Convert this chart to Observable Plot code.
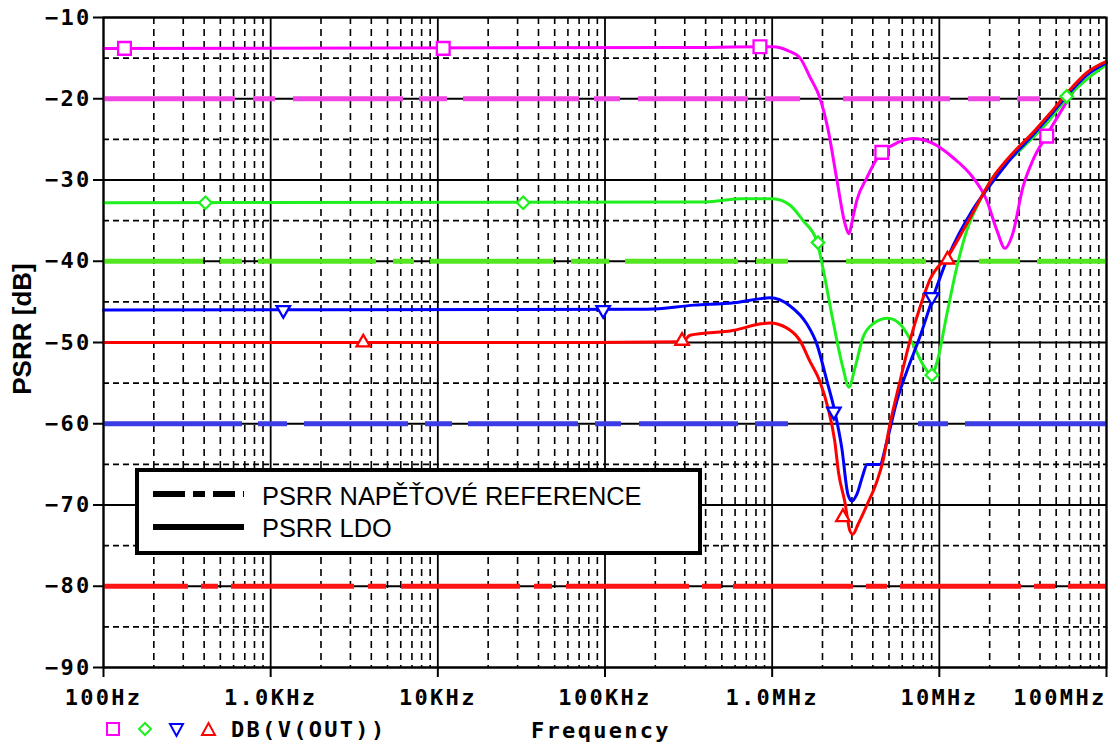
<!DOCTYPE html>
<html>
<head>
<meta charset="utf-8">
<script src="https://cdn.jsdelivr.net/npm/d3@7"></script>
<script src="https://cdn.jsdelivr.net/npm/@observablehq/plot@0.6"></script>
<style>
html, body { margin: 0; padding: 0; background: #fff; }
#chart { position: relative; width: 1116px; height: 746px; overflow: hidden; background: #fff; }
#chart > svg { position: absolute; left: 0; top: 0; }
g[aria-label="x-axis tick label"] text,
g[aria-label="y-axis tick label"] text { letter-spacing: 2.3px; }
.mono { font-family: "DejaVu Sans Mono", monospace; font-weight: bold; font-size: 22px; letter-spacing: 2.3px; }
.sans { font-family: "Liberation Sans", Arial, sans-serif; }
</style>
</head>
<body>
<div id="chart"></div>
<script>
// ---------- axes ----------
const frequencyTicks = [1e2, 1e3, 1e4, 1e5, 1e6, 1e7, 1e8];
const frequencyTickLabels = ["100Hz", "1.0KHz", "10KHz", "100KHz", "1.0MHz", "10MHz", "100MHz"];
const dbTicks = [-10, -20, -30, -40, -50, -60, -70, -80, -90];
const dbMinorTicks = [-15, -25, -35, -45, -55, -65, -75, -85];
const minorMultipliers = [2, 3, 4, 5, 6, 7, 8, 9];

const yTitle = "PSRR [dB]";
const xTitle = "Frequency";
const traceLegend = "DB(V(OUT))";
const legendReference = "PSRR NAPĚŤOVÉ REFERENCE";
const legendLdo = "PSRR LDO";

// ---------- reference levels (PSRR napěťové reference) ----------
const referenceLevels = [-20, -40, -60, -80];   // magenta, green, blue, red

// ---------- PSRR LDO traces ----------
const magentaFreq = [100, 3e5, 8.45e5, 1.01e6, 1.25e6, 1.47e6, 1.68e6, 1.93e6, 2.16e6, 2.44e6, 2.72e6, 2.87e6, 3.05e6, 3.21e6, 3.69e6, 4.41e6, 5.27e6, 6.95e6, 9.15e6, 1.2e7, 1.59e7, 1.92e7, 2.21e7, 2.47e7, 2.75e7, 3.16e7, 3.62e7, 4.39e7, 5.25e7, 6.03e7, 6.92e7, 1e8];
const magentaDb   = [-13.8, -13.7, -13.6, -13.6, -14.1, -15.0, -17.3, -19.9, -23.8, -30.0, -35.3, -36.6, -34.5, -32.5, -29.7, -26.8, -25.7, -24.9, -25.5, -27.2, -29.7, -32.5, -36.2, -38.4, -36.6, -30.9, -27.6, -24.5, -21.8, -19.8, -18.0, -15.5];

const greenFreq = [100, 4e5, 6.43e5, 1.01e6, 1.28e6, 1.53e6, 1.85e6, 2.01e6, 2.31e6, 2.65e6, 2.88e6, 3.13e6, 3.49e6, 4.01e6, 4.92e6, 5.81e6, 6.95e6, 7.97e6, 9.02e6, 9.66e6, 1.11e7, 1.27e7, 1.46e7, 1.75e7, 2.0e7, 3.16e7, 4.4e7, 5.86e7, 7.94e7, 1e8];
const greenDb   = [-32.8, -32.7, -32.3, -32.3, -33.1, -35.0, -37.5, -40.8, -47.3, -53.1, -55.5, -53.1, -49.4, -47.7, -47.0, -47.7, -50.2, -52.7, -54.0, -52.5, -46.5, -40.8, -36.2, -32.5, -30.3, -26.0, -23.0, -19.8, -17.3, -15.8];

const blueFreq = [100, 1.78e5, 3.41e5, 5.91e5, 9.7e5, 1.28e6, 1.61e6, 1.85e6, 2.13e6, 2.37e6, 2.61e6, 2.84e6, 3.0e6, 3.21e6, 3.49e6, 3.69e6, 4.41e6, 4.85e6, 5.57e6, 6.40e6, 7.65e6, 9.15e6, 1.11e7, 1.59e7, 2.09e7, 2.75e7, 3.62e7, 4.77e7, 6.29e7, 7.62e7, 1e8];
const blueDb   = [-46.0, -45.9, -45.4, -45.1, -44.5, -45.5, -47.7, -50.2, -54.8, -58.5, -63.0, -68.7, -69.5, -68.7, -66.3, -65.0, -65.0, -62.2, -57.2, -53.5, -49.3, -44.5, -39.8, -33.6, -30.2, -27.1, -24.5, -21.7, -18.8, -17.1, -15.6];

const redFreq = [100, 6.63e4, 2.9e5, 3.23e5, 5.91e5, 8.57e5, 9.7e5, 1.22e6, 1.47e6, 1.68e6, 1.93e6, 2.16e6, 2.37e6, 2.49e6, 2.72e6, 2.92e6, 3.04e6, 3.26e6, 3.69e6, 4.23e6, 4.59e6, 5.06e6, 5.81e6, 6.67e6, 7.65e6, 8.77e6, 1.16e7, 1.46e7, 2.09e7, 2.75e7, 3.62e7, 4.77e7, 6.29e7, 7.62e7, 1e8];
const redDb   = [-50.0, -50.0, -49.9, -49.1, -48.5, -47.7, -47.6, -48.2, -49.8, -52.3, -54.8, -58.1, -62.2, -65.9, -69.6, -73.2, -73.6, -72.4, -70.0, -67.1, -64.7, -60.1, -54.8, -49.8, -45.7, -42.3, -39.0, -35.4, -29.7, -26.7, -24.2, -21.4, -18.5, -16.8, -15.4];

// ---------- trace markers ----------
const magentaMarkFreq = [133.5, 1.077e4, 8.45e5, 4.53e6, 4.39e7];
const magentaMarkDb   = [-13.8, -13.8, -13.6, -26.6, -24.6];
const greenMarkFreq = [407, 3.24e4, 1.88e6, 9.02e6, 5.78e7];
const greenMarkDb   = [-32.8, -32.8, -37.7, -54.0, -19.7];
const blueMarkFreq = [1190, 9.75e4, 2.34e6, 9.02e6];
const blueMarkDb   = [-46.0, -46.0, -58.5, -44.4];
const redMarkFreq = [3580, 2.89e5, 2.65e6, 1.12e7];
const redMarkDb   = [-50.0, -49.8, -71.5, -39.8];

// ---------- build tables ----------
const rows = (fs, ds) => fs.map((f, i) => ({f, db: ds[i]}));
const minorFreqs = frequencyTicks.slice(0, -1).flatMap(d => minorMultipliers.map(k => k * d));
const tickLabel = d => frequencyTickLabels[frequencyTicks.indexOf(d)];

const MONO = "DejaVu Sans Mono";
const lineOpts = {x: "f", y: "db", strokeWidth: 3, curve: "monotone-x"};
const dotOpts = {x: "f", y: "db", fill: "white", strokeWidth: 2.3};

const plot = Plot.plot({
  width: 1116,
  height: 746,
  marginTop: 17,
  marginLeft: 103,
  marginRight: 10,
  marginBottom: 79,
  x: {type: "log", domain: [1e2, 1e8]},
  y: {domain: [-90, -10]},
  style: {background: "white", color: "black", overflow: "visible"},
  marks: [
    // grid
    Plot.ruleX(minorFreqs, {stroke: "black", strokeWidth: 1.6, strokeDasharray: "7,5"}),
    Plot.ruleY(dbMinorTicks, {stroke: "black", strokeWidth: 1.6, strokeDasharray: "6,4"}),
    Plot.ruleX(frequencyTicks, {stroke: "black", strokeWidth: 1.8}),
    Plot.ruleY(dbTicks, {stroke: "black", strokeWidth: 1.8}),
    // reference levels
    Plot.ruleY([referenceLevels[0]], {stroke: "#f044e4", strokeWidth: 5,
      strokeDasharray: "132,18,22,18,110,16,28,16,116,15,26,18,110,17,35,43,107,18,32,17,23,80"}),
    Plot.ruleY([referenceLevels[1]], {stroke: "#55e622", strokeWidth: 5,
      strokeDasharray: "100,17,22,16,118,17,21,16,123,18,38,16,113,18,32,58,80,53,41,17,70"}),
    Plot.ruleY([referenceLevels[2]], {stroke: "#3c3ce4", strokeWidth: 5,
      strokeDasharray: "139,16,29,17,104,17,27,16,110,17,26,18,99,17,33,130,30,17,145"}),
    Plot.ruleY([referenceLevels[3]], {stroke: "#ff1414", strokeWidth: 5,
      strokeDasharray: "85,13,17,13,123,14,18,15,119,14,18,14,123,13,19,12,120,13,21,13,121,13,21,13,40"}),
    // LDO traces
    Plot.line(rows(magentaFreq, magentaDb), {...lineOpts, stroke: "#ff00ff"}),
    Plot.line(rows(greenFreq, greenDb), {...lineOpts, stroke: "#1ef01e"}),
    Plot.line(rows(blueFreq, blueDb), {...lineOpts, stroke: "#0000ff"}),
    Plot.line(rows(redFreq, redDb), {...lineOpts, stroke: "#ff0000"}),
    // markers
    Plot.dot(rows(magentaMarkFreq, magentaMarkDb), {...dotOpts, stroke: "#ff00ff", symbol: "square", r: 7.2}),
    Plot.dot(rows(greenMarkFreq, greenMarkDb), {...dotOpts, stroke: "#1ef01e", symbol: "diamond2", r: 5.6}),
    Plot.dot(rows(blueMarkFreq, blueMarkDb), {...dotOpts, stroke: "#0000ff", symbol: "triangle", r: 5, rotate: 180}),
    Plot.dot(rows(redMarkFreq, redMarkDb), {...dotOpts, stroke: "#ff0000", symbol: "triangle", r: 5}),
    // frame + axes
    Plot.frame({stroke: "black", strokeWidth: 2}),
    Plot.axisY(dbTicks, {anchor: "left", tickSize: 10, tickPadding: 2, strokeWidth: 2,
      tickFormat: d => "\u2212" + Math.abs(d), fontSize: 22, fontWeight: "bold", fontFamily: MONO, label: null}),
    Plot.axisX(frequencyTicks.slice(0, -1), {anchor: "bottom", tickSize: 10, tickPadding: 12, strokeWidth: 2,
      tickFormat: tickLabel, fontSize: 22, fontWeight: "bold", fontFamily: MONO, label: null}),
    Plot.axisX(frequencyTicks.slice(-1), {anchor: "bottom", tickSize: 10, tickPadding: 12, strokeWidth: 2,
      tickFormat: tickLabel, textAnchor: "end", fontSize: 22, fontWeight: "bold", fontFamily: MONO, label: null})
  ]
});

const chart = document.getElementById("chart");
chart.appendChild(plot);

// ---------- overlay: titles and legends ----------
const ns = "http://www.w3.org/2000/svg";
const ov = d3.select(chart).append("svg")
  .attr("xmlns", ns).attr("width", 1116).attr("height", 746)
  .style("pointer-events", "none");

ov.append("text").attr("class", "sans")
  .attr("transform", "translate(31,329) rotate(-90)")
  .attr("text-anchor", "middle").attr("font-weight", "bold").attr("font-size", 26)
  .text(yTitle);

// legend box
const lg = ov.append("g");
lg.append("rect").attr("x", 137).attr("y", 470).attr("width", 563).attr("height", 83)
  .attr("fill", "white").attr("stroke", "black").attr("stroke-width", 4);
lg.append("line").attr("x1", 153).attr("x2", 244).attr("y1", 494).attr("y2", 494)
  .attr("stroke", "black").attr("stroke-width", 6).attr("stroke-dasharray", "32,8,12,8,22,8,9");
lg.append("line").attr("x1", 153).attr("x2", 244).attr("y1", 527).attr("y2", 527)
  .attr("stroke", "black").attr("stroke-width", 6);
lg.append("text").attr("class", "sans").attr("x", 262).attr("y", 505).attr("font-size", 25.4).text(legendReference);
lg.append("text").attr("class", "sans").attr("x", 262).attr("y", 537).attr("font-size", 25.4).text(legendLdo);

// bottom trace legend
const bl = ov.append("g").attr("fill", "white").attr("stroke-width", 2);
bl.append("rect").attr("x", 107).attr("y", 723).attr("width", 12).attr("height", 12).attr("stroke", "#ff00ff");
bl.append("polygon").attr("points", "145,723 151,729 145,735 139,729").attr("stroke", "#1ef01e");
bl.append("polygon").attr("points", "170,724 183,724 176.5,736").attr("stroke", "#0000ff");
bl.append("polygon").attr("points", "202,735 215,735 208.5,723").attr("stroke", "#ff0000");
ov.append("text").attr("class", "mono").attr("x", 231).attr("y", 737).text(traceLegend);
ov.append("text").attr("class", "mono").attr("x", 531).attr("y", 738).text(xTitle);
</script>
</body>
</html>
